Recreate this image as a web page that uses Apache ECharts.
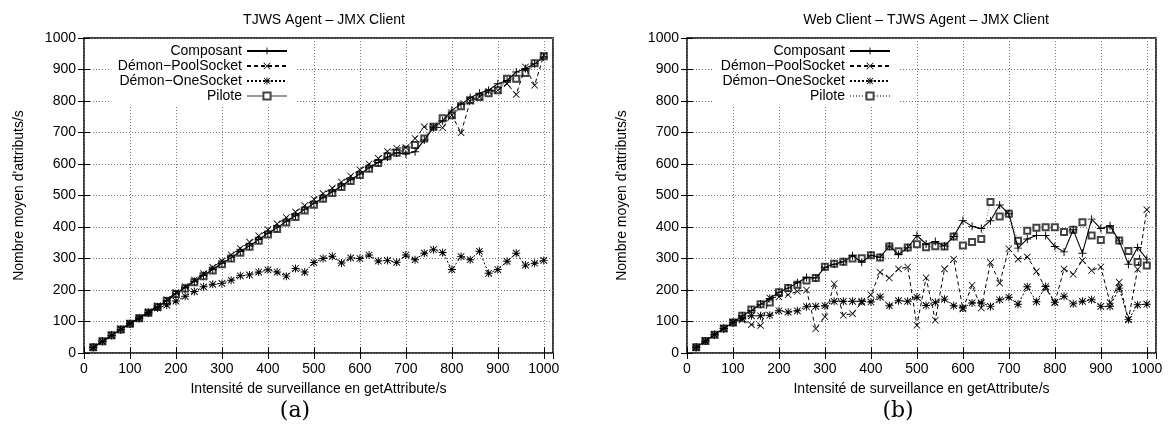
<!DOCTYPE html>
<html><head><meta charset="utf-8">
<script src="https://cdn.jsdelivr.net/npm/echarts@6/dist/echarts.min.js"></script>
<style>html,body{margin:0;padding:0;background:#fff}#c{width:1172px;height:430px}</style>
</head><body><div id="c"></div>
<script>
const X = [20,40,60,80,100,120,140,160,180,200,220,240,260,280,300,320,340,360,380,400,420,440,460,480,500,520,540,560,580,600,620,640,660,680,700,720,740,760,780,800,820,840,860,880,900,920,940,960,980,1000];
const xTicks = [0,100,200,300,400,500,600,700,800,900,1000];
const yTicks = [0,100,200,300,400,500,600,700,800,900,1000];
const seriesNames = ['Composant','Démon−PoolSocket','Démon−OneSocket','Pilote'];
const titleA = 'TJWS Agent – JMX Client';
const titleB = 'Web Client – TJWS Agent – JMX Client';
const xLabel = 'Intensité de surveillance en getAttribute/s';
const yLabel = "Nombre moyen d'attributs/s";

// Panel (a)
const compA = [18,37,56,75,93,111,129,147,166,188,207,227,246,265,285,302,322,340,360,380,398,418,436,456,475,493,512,530,550,568,588,605,622,636,632,639,676,715,737,771,790,810,825,834,855,865,892,903,918,940];
const poolA = [18,37,56,76,94,112,131,150,170,192,211,232,252,272,293,312,332,352,372,392,410,430,448,468,488,506,524,543,562,582,600,618,640,650,652,681,718,718,715,755,699,799,813,831,834,855,821,908,850,945];
const oneA  = [18,37,56,75,93,110,127,143,152,165,180,195,210,218,221,231,245,248,257,264,257,244,268,257,287,300,307,286,302,300,311,292,294,288,311,296,317,328,319,265,306,296,323,253,265,291,317,279,285,294];
const pilA  = [18,37,56,75,93,110,128,146,165,187,205,225,244,262,282,300,318,337,356,376,394,414,432,452,471,490,508,527,546,565,585,603,625,636,645,660,681,718,745,755,783,802,813,825,834,871,871,889,920,942];

// Panel (b)
const compB = [18,38,58,78,97,118,135,155,173,193,206,223,240,238,272,282,290,309,288,310,304,340,313,334,373,346,354,340,370,421,402,395,420,470,442,333,362,373,373,338,321,391,317,425,395,404,356,282,335,298];
const poolB = [18,38,58,78,97,105,90,87,175,178,185,196,200,77,115,220,120,125,160,185,256,238,267,273,88,239,104,267,298,140,215,143,287,222,331,298,305,259,205,160,267,250,294,262,273,160,225,106,266,455];
const oneB  = [18,38,58,78,97,110,118,118,120,134,130,134,147,148,150,164,164,164,164,162,178,150,166,164,177,151,161,171,150,143,159,159,148,169,177,155,210,163,211,161,180,156,164,169,148,148,206,106,153,155];
const pilB  = [18,38,58,78,97,118,138,155,160,193,206,217,230,238,274,283,290,300,301,310,303,338,323,335,345,336,339,338,370,341,352,362,479,433,442,356,388,398,399,399,384,391,415,373,359,391,357,324,289,278];

const FONT = 'Liberation Sans';
const PLUS = 'path://M4.4,0h1.2v4.4h4.4v1.2h-4.4v4.4h-1.2v-4.4h-4.4v-1.2h4.4z';
const CROSS = 'path://M0,0.8L0.8,0L5,4.2L9.2,0L10,0.8L5.8,5L10,9.2L9.2,10L5,5.8L0.8,10L0,9.2L4.2,5z';
const STAR = 'path://M4.4,0h1.2v4.4h4.4v1.2h-4.4v4.4h-1.2v-4.4h-4.4v-1.2h4.4zM0.5,1.3L1.3,0.5L5,4.2L8.7,0.5L9.5,1.3L5.8,5L9.5,8.7L8.7,9.5L5,5.8L1.3,9.5L0.5,8.7L4.2,5z';

const pair = arr => X.map((x,i)=>[x,arr[i]]);

function mkSeries(prefix, idx, comp, pool, one, pil, pilDotted){
  const base = {type:'line', xAxisIndex: idx*2, yAxisIndex: idx*2, animation:false};
  return [
    Object.assign({}, base, {name: prefix+seriesNames[3], data: pair(pil), symbol: 'emptyRect', symbolSize: 6,
      itemStyle:{color:'#444', borderWidth:1},
      lineStyle: pilDotted ? {color:'#777', width:1, type:[1,2]} : {color:'#999', width:2, type:'solid'}, z:3}),
    Object.assign({}, base, {name: prefix+seriesNames[2], data: pair(one), symbol: STAR, symbolSize: 8,
      itemStyle:{color:'#000'}, lineStyle:{color:'#000', width:1, type:[2,2]}, z:4}),
    Object.assign({}, base, {name: prefix+seriesNames[1], data: pair(pool), symbol: CROSS, symbolSize: 7,
      itemStyle:{color:'#000'}, lineStyle:{color:'#000', width:1, type:[4,3]}, z:4}),
    Object.assign({}, base, {name: prefix+seriesNames[0], data: pair(comp), symbol: PLUS, symbolSize: 8,
      itemStyle:{color:'#000'}, lineStyle:{color:'#000', width:1.1, type:'solid'}, z:5})
  ];
}

const numFmt = v => String(v);

function xAxes(gi){
  return [
    {type:'value', gridIndex:gi, min:0, max:1020, interval:100, position:'bottom',
     name: xLabel, nameLocation:'middle', nameGap:29, nameTextStyle:{fontFamily:FONT, fontSize:14, color:'#000'},
     axisLine:{show:false}, axisTick:{inside:true, length:6, lineStyle:{color:'#000'}},
     axisLabel:{fontFamily:FONT, fontSize:14, color:'#000', margin:9, showMaxLabel:false, formatter:numFmt},
     splitLine:{show:true, lineStyle:{type:[1,2], color:'#777', width:1}}},
    {type:'value', gridIndex:gi, min:0, max:1020, interval:100, position:'top',
     axisLine:{show:false}, axisTick:{inside:true, length:6, lineStyle:{color:'#000'}},
     axisLabel:{show:false}, splitLine:{show:false}}
  ];
}
function yAxes(gi){
  return [
    {type:'value', gridIndex:gi, min:0, max:1000, interval:100, position:'left',
     name: yLabel, nameLocation:'middle', nameGap:58, nameRotate:90, nameTextStyle:{fontFamily:FONT, fontSize:14, color:'#000'},
     axisLine:{show:false}, axisTick:{inside:true, length:6, lineStyle:{color:'#000'}},
     axisLabel:{fontFamily:FONT, fontSize:14, color:'#000', margin:8, formatter:numFmt},
     splitLine:{show:true, lineStyle:{type:[1,2], color:'#777', width:1}}},
    {type:'value', gridIndex:gi, min:0, max:1000, interval:100, position:'right',
     axisLine:{show:false}, axisTick:{inside:true, length:6, lineStyle:{color:'#000'}},
     axisLabel:{show:false}, splitLine:{show:false}}
  ];
}

const legendCommon = {orient:'vertical', align:'right', top:41, itemGap:1, itemWidth:40, itemHeight:9,
  backgroundColor:'#fff', padding:[3,8,4,8], textStyle:{fontFamily:FONT, fontSize:14, color:'#000'}};

const option = {
  backgroundColor:'#fff',
  animation:false,
  title:[
    {text:titleA, left:319, top:8, textAlign:'center', textStyle:{fontFamily:FONT, fontSize:14, fontWeight:'normal', color:'#000'}},
    {text:titleB, left:921, top:8, textAlign:'center', textStyle:{fontFamily:FONT, fontSize:14, fontWeight:'normal', color:'#000'}},
    {text:'(a)', left:290, top:395, textAlign:'center', textStyle:{fontFamily:'DejaVu Serif', fontSize:22, fontWeight:'normal', color:'#000'}},
    {text:'(b)', left:893, top:395, textAlign:'center', textStyle:{fontFamily:'DejaVu Serif', fontSize:22, fontWeight:'normal', color:'#000'}}
  ],
  grid:[
    {left:84, top:38, width:469, height:315, show:true, borderColor:'#000', borderWidth:1.5, backgroundColor:'transparent'},
    {left:687, top:38, width:469, height:315, show:true, borderColor:'#000', borderWidth:1.5, backgroundColor:'transparent'}
  ],
  legend:[
    Object.assign({}, legendCommon, {right:876, data: seriesNames.slice()}),
    Object.assign({}, legendCommon, {right:273, data: seriesNames.map(n=>'B:'+n), formatter: n => n.replace(/^B:/,'')})
  ],
  xAxis: xAxes(0).concat(xAxes(1)),
  yAxis: yAxes(0).concat(yAxes(1)),
  series: mkSeries('', 0, compA, poolA, oneA, pilA, false).concat(mkSeries('B:', 1, compB, poolB, oneB, pilB, true))
};
const chart = echarts.init(document.getElementById('c'), null, {renderer:'canvas'});
chart.setOption(option);
</script></body></html>
